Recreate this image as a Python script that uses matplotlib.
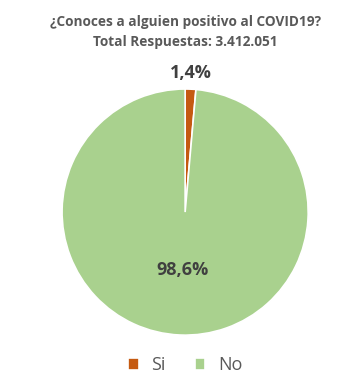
import matplotlib.pyplot as plt
import numpy as np

labels = ['Si', 'No']
values = [1.4, 98.6]
pct_text = ['1,4%', '98,6%']
colors = ['#C55A11', '#A9D18E']

plt.rcParams['font.family'] = ['Open Sans', 'DejaVu Sans']

fig = plt.figure(figsize=(3.63, 3.92), dpi=100)
ax = fig.add_axes([0.171, 0.145, 0.678, 0.628])

wedges, _ = ax.pie(values, colors=colors, startangle=90, counterclock=False,
                   wedgeprops=dict(edgecolor='white', linewidth=1.2))
ax.set_aspect('equal')
ax.set_xlim(-1, 1)
ax.set_ylim(-1, 1)

# percentage labels placed along each wedge's mid angle
dists = [1.13, 0.47]
for w, txt, d in zip(wedges, pct_text, dists):
    ang = np.deg2rad((w.theta1 + w.theta2) / 2)
    ax.text(d * np.cos(ang), d * np.sin(ang), txt, ha='center', va='center',
            fontsize=13, fontweight='bold', color='#404040', clip_on=False)

fig.text(0.51, 0.918, '¿Conoces a alguien positivo al COVID19?\nTotal Respuestas: 3.412.051',
         ha='center', va='center', fontsize=9.8, fontweight='bold', color='#595959',
         linespacing=1.6)

fig.legend(wedges, labels, loc='center', bbox_to_anchor=(0.51, 0.068), ncol=2,
           frameon=False, fontsize=13, labelcolor='#595959',
           handlelength=0.6, handleheight=0.6, handletextpad=0.7, columnspacing=1.6)

fig.savefig('out.png', dpi=100, facecolor='white')
